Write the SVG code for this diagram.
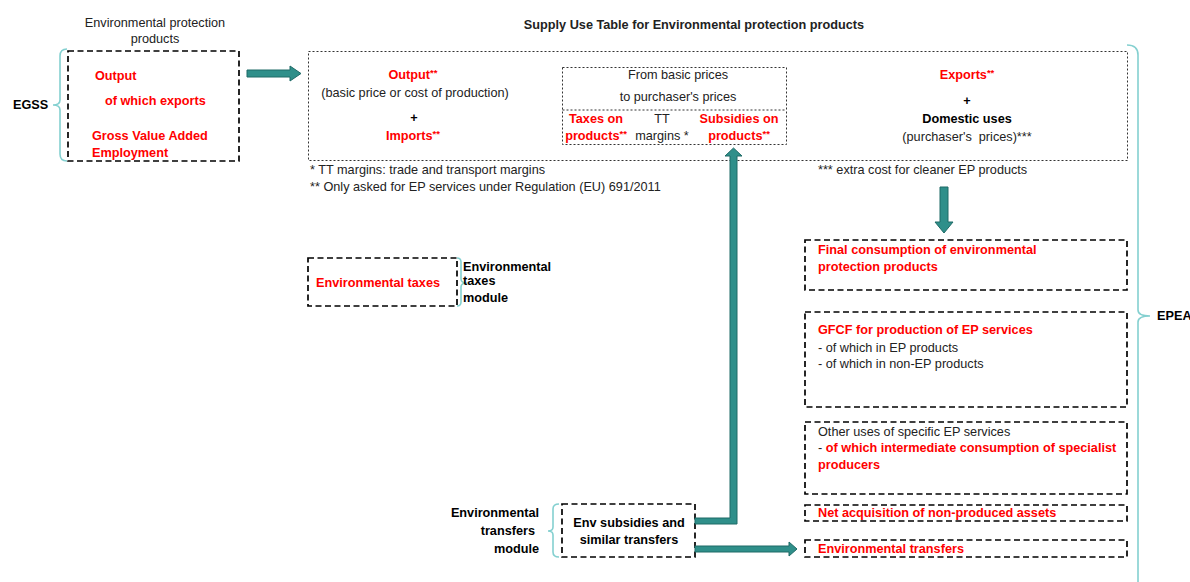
<svg xmlns="http://www.w3.org/2000/svg" width="1190" height="582" viewBox="0 0 1190 582">
<style>
text{font-family:"Liberation Sans",Arial,sans-serif;font-size:12.7px;fill:#222}
.b{font-weight:bold}
.r{fill:#ff0000;font-weight:bold}
.k{fill:#000;font-weight:bold}
.m{text-anchor:middle}
.e{text-anchor:end}
.sup{font-size:9.5px}
.dash{fill:none;stroke:#000;stroke-width:1.7;stroke-dasharray:6 3.5}
.dot{fill:none;stroke:#333;stroke-width:1;stroke-dasharray:2 2}
.brace{fill:none;stroke:#84d0d0;stroke-width:1.6}
.arr{fill:#2f8f8a;stroke:#1f6b67;stroke-width:1}
</style>
<rect width="1190" height="582" fill="#fff"/>

<g id="egss">
  <text class="m" x="155" y="27">Environmental protection</text>
  <text class="m" x="155" y="43">products</text>
  <path class="brace" d="M67,49 Q60,49 60,56 L60,100 Q60,105 53,105 Q60,105 60,110 L60,154 Q60,161 67,161"/>
  <text class="k" x="13" y="109">EGSS</text>
  <rect class="dash" x="68" y="51" width="171" height="110"/>
  <text class="r" x="95" y="80">Output</text>
  <text class="r" x="105" y="105">of which exports</text>
  <text class="r" x="92" y="140">Gross Value Added</text>
  <text class="r" x="92" y="157">Employment</text>
</g>

<g id="sut">
  <text class="b m" x="694" y="29">Supply Use Table for Environmental protection products</text>
  <rect class="dot" x="308.5" y="51.5" width="819" height="109"/>
  <text class="r m" x="413" y="79">Output<tspan class="sup" dy="-3">**</tspan></text>
  <text class="m" x="415" y="97">(basic price or cost of production)</text>
  <text class="k m" x="414" y="122">+</text>
  <text class="r m" x="413" y="140">Imports<tspan class="sup" dy="-3">**</tspan></text>
  <text class="r m" x="967" y="79">Exports<tspan class="sup" dy="-3">**</tspan></text>
  <text class="k m" x="967" y="105">+</text>
  <text class="k m" x="967" y="123">Domestic uses</text>
  <text class="m" x="967" y="141">(purchaser's&#160; prices)***</text>
  <text x="310" y="174">* TT margins: trade and transport margins</text>
  <text x="310" y="191">** Only asked for EP services under Regulation (EU) 691/2011</text>
  <text x="818" y="174">*** extra cost for cleaner EP products</text>
</g>

<g id="prices">
  <rect class="dot" x="562.5" y="67.5" width="224" height="77"/>
  <line class="dot" x1="562.5" y1="110" x2="786.5" y2="110"/>
  <text class="m" x="678" y="79">From basic prices</text>
  <text class="m" x="678" y="101">to purchaser's prices</text>
  <text class="r m" x="596" y="123">Taxes on</text>
  <text class="r m" x="596" y="140">products<tspan class="sup" dy="-3">**</tspan></text>
  <text class="m" x="662" y="123">TT</text>
  <text class="m" x="662" y="140">margins *</text>
  <text class="r m" x="739" y="123">Subsidies on</text>
  <text class="r m" x="739" y="140">products<tspan class="sup" dy="-3">**</tspan></text>
</g>

<g id="envtaxes">
  <rect class="dash" x="308" y="258" width="149" height="48"/>
  <text class="r m" x="378" y="287">Environmental taxes</text>
  <path class="brace" d="M457,258 Q461,258 461,262 L461,279 Q461,283 467,283 Q461,283 461,287 L461,302 Q461,306 457,306"/>
  <text class="k" x="463" y="271">Environmental</text>
  <text class="k" x="463" y="285">taxes</text>
  <text class="k" x="463" y="302">module</text>
</g>

<g id="envsub">
  <rect class="dash" x="562" y="504" width="133" height="53"/>
  <text class="k m" x="629" y="527">Env subsidies and</text>
  <text class="k m" x="629" y="544">similar transfers</text>
  <path class="brace" d="M559,504 Q553,504 553,509 L553,527 Q553,531 548,531 Q553,531 553,535 L553,552 Q553,557 559,557"/>
  <text class="k e" x="539" y="517">Environmental</text>
  <text class="k e" x="535" y="535">transfers</text>
  <text class="k e" x="539" y="553">module</text>
</g>

<g id="uses">
  <rect class="dash" x="805" y="240" width="322" height="50"/>
  <text class="r" x="818" y="254">Final consumption of environmental</text>
  <text class="r" x="818" y="271">protection products</text>
  <rect class="dash" x="805" y="312" width="322" height="95"/>
  <text class="r" x="818" y="334">GFCF for production of EP services</text>
  <text x="818" y="352">- of which in EP products</text>
  <text x="818" y="368">- of which in non-EP products</text>
  <rect class="dash" x="805" y="422" width="322" height="72"/>
  <text x="818" y="436">Other uses of specific EP services</text>
  <text class="r" x="818" y="452"><tspan style="fill:#222;font-weight:normal">- </tspan>of which intermediate consumption of specialist</text>
  <text class="r" x="818" y="469">producers</text>
  <rect class="dash" x="805" y="505" width="322" height="16"/>
  <text class="r" x="818" y="517">Net acquisition of non-produced assets</text>
  <rect class="dash" x="805" y="540" width="322" height="17"/>
  <text class="r" x="818" y="553">Environmental transfers</text>
</g>

<g id="epea">
  <path class="brace" d="M1127,45 Q1138,45 1138,55 L1138,310 Q1138,316 1150,316 Q1138,316 1138,322 L1138,590"/>
  <text class="k" x="1157" y="320">EPEA</text>
</g>

<g id="connectors">
  <polygon class="arr" points="247,70 290,70 290,66 301,73.5 290,81 290,77 247,77"/>
  <polygon class="arr" points="940,187 948,187 948,222 953,222 944,233 935,222 940,222"/>
  <polygon class="arr" points="695,518 730,518 730,156 725,156 733.5,148 742,156 737,156 737,524 695,524"/>
  <polygon class="arr" points="695,546 789,546 789,542 797,549 789,556 789,552 695,552"/>
</g>
</svg>
